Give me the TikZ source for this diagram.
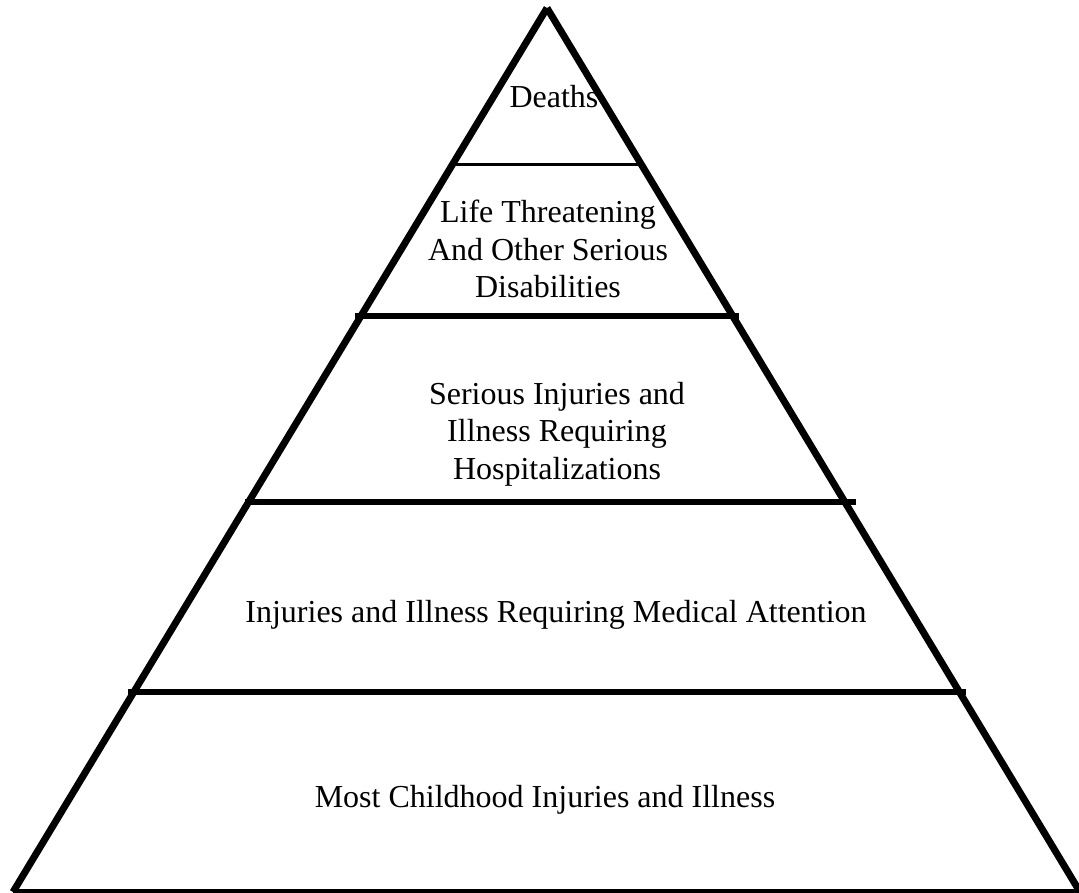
\documentclass[tikz,border=0pt]{standalone}
\usepackage{fontspec}
\setmainfont{Liberation Serif}
\newfontfamily\timesface{Liberation Serif}
\usepackage{tikz}
\usetikzlibrary{calc}

\tikzset{
  side/.style={line width=7pt},
  band/.style={line width=5.5pt},
  txt/.style={align=center, inner sep=0pt, font=\timesface\fontsize{32}{37.5}\selectfont}
}

\begin{document}
\begin{tikzpicture}[x=1pt, y=-1pt]
\useasboundingbox (0,0) rectangle (1079,892);
% corners of the pyramid
\coordinate (top) at (547, 8);
\coordinate (bl) at (13, 892);
\coordinate (br) at (1080, 892);
\draw[side] (top) -- (bl);
\draw[side] (top) -- (br);
\draw[band] (bl) -- (br);
% ends of the bands
\coordinate (l1) at (456, 164);
\coordinate (r1) at (638, 164);
\coordinate (l2) at (355, 316);
\coordinate (r2) at (739, 316);
\coordinate (l3) at (245, 502);
\coordinate (r3) at (856, 502);
\coordinate (l4) at (128, 692);
\coordinate (r4) at (966, 692);
\draw[line width=3pt] (l1) -- (r1);
\draw[band] (l2) -- (r2);
\draw[band] (l3) -- (r3);
\draw[band] (l4) -- (r4);
% texts
\node[txt] (deaths) at (554, 97) {Deaths};
\node[txt] (life) at (548, 249) {Life Threatening\\And Other Serious\\Disabilities};
\node[txt] (serious) at (557, 434) {Serious Injuries and\\Illness Requiring\\Hospitalizations};
\node[txt] (medical) at (556, 615) {Injuries and Illness Requiring Medical Attention};
\node[txt] (most) at (545, 800) {Most Childhood Injuries and Illness};
\end{tikzpicture}
\end{document}
